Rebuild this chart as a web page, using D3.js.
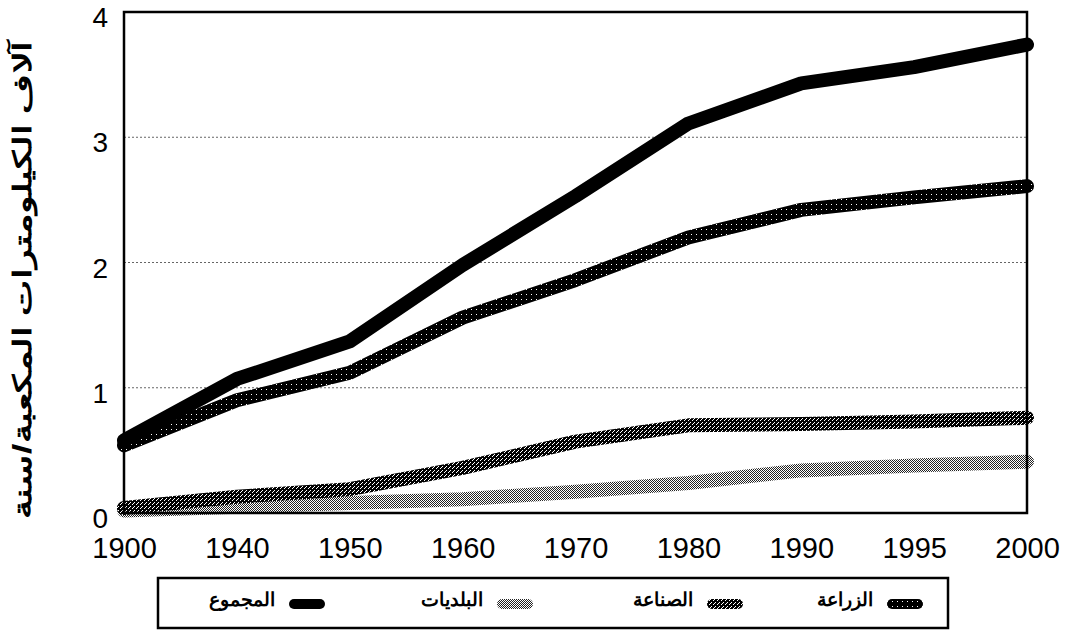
<!DOCTYPE html>
<html>
<head>
<meta charset="utf-8">
<script src="https://cdn.jsdelivr.net/npm/d3@7"></script>
<style>
  html, body { margin: 0; padding: 0; background: #fff; }
  #chart { width: 1072px; height: 631px; }
  text { font-family: "Liberation Sans", Arial, sans-serif; fill: #000; }
</style>
</head>
<body>
<div id="chart"></div>
<script>
/* Water withdrawal by sector, 1900-2000 — textured lines, legend box below. */

var years = ["1900", "1940", "1950", "1960", "1970", "1980", "1990", "1995", "2000"];
var yTicks = [0, 1, 2, 3, 4];
var yTitle = "آلاف الكيلومترات المكعبة/سنة";

var seriesNames = ["الزراعة", "الصناعة", "البلديات", "المجموع"];
var agriculture = [0.54, 0.90, 1.12, 1.56, 1.86, 2.20, 2.42, 2.52, 2.61];
var industry = [0.04, 0.13, 0.19, 0.36, 0.57, 0.70, 0.71, 0.73, 0.76];
var municipal = [0.02, 0.05, 0.08, 0.11, 0.17, 0.24, 0.34, 0.38, 0.41];
var total = [0.58, 1.07, 1.37, 1.98, 2.53, 3.11, 3.43, 3.56, 3.74];

(function () {
  var d3 = window.d3;
  var el = document.getElementById("chart");
  var width = 1072, height = 631;
  var margin = { top: 12, right: 45, bottom: 118, left: 124 };
  var innerW = width - margin.left - margin.right;
  var innerH = height - margin.top - margin.bottom;

  var svg = d3.select(el).append("svg")
    .attr("width", width).attr("height", height)
    .attr("viewBox", "0 0 " + width + " " + height);

  /* stipple patterns for the line textures */
  var defs = svg.append("defs");
  function pattern(id, size, bg, dots) {
    var p = defs.append("pattern").attr("id", id)
      .attr("patternUnits", "userSpaceOnUse")
      .attr("width", size).attr("height", size);
    p.append("rect").attr("width", size).attr("height", size).attr("fill", bg);
    dots.forEach(function (d) {
      p.append("rect").attr("x", d[0]).attr("y", d[1]).attr("width", 1).attr("height", 1).attr("fill", d[2]);
    });
  }
  pattern("pat-agri", 5, "#000", [[2, 2, "#fff"]]);
  pattern("pat-ind", 4, "#000", [[0, 0, "#fff"], [2, 2, "#fff"], [1, 3, "#fff"]]);
  pattern("pat-mun", 2, "#fff", [[0, 0, "#222"], [1, 1, "#222"]]);

  var series = [
    { name: seriesNames[0], values: agriculture, stroke: "url(#pat-agri)" },
    { name: seriesNames[1], values: industry, stroke: "url(#pat-ind)" },
    { name: seriesNames[2], values: municipal, stroke: "url(#pat-mun)" },
    { name: seriesNames[3], values: total, stroke: "#000" }
  ];

  var g = svg.append("g").attr("transform", "translate(" + margin.left + "," + margin.top + ")");

  var x = d3.scalePoint().domain(years).range([0, innerW]).padding(0);
  var y = d3.scaleLinear().domain([0, 4]).range([innerH, 0]);

  /* dotted gridlines */
  g.append("g").selectAll("line").data(yTicks.filter(function (v) { return v > 0 && v < 4; }))
    .enter().append("line")
    .attr("x1", 0).attr("x2", innerW)
    .attr("y1", function (v) { return y(v); }).attr("y2", function (v) { return y(v); })
    .attr("stroke", "#666").attr("stroke-width", 1).attr("stroke-dasharray", "2 2");

  /* lines: draw bottom series first so the total sits on top */
  var line = d3.line()
    .x(function (d, i) { return x(years[i]); })
    .y(function (d) { return y(d); });

  [series[2], series[1], series[0], series[3]].forEach(function (s) {
    g.append("path").datum(s.values)
      .attr("fill", "none").attr("stroke", s.stroke)
      .attr("stroke-width", 14)
      .attr("stroke-linecap", "round").attr("stroke-linejoin", "round")
      .attr("d", line);
  });

  /* plot frame */
  g.append("rect").attr("width", innerW).attr("height", innerH)
    .attr("fill", "none").attr("stroke", "#000").attr("stroke-width", 2.5);

  /* axes */
  var xAxis = g.append("g").attr("transform", "translate(0," + innerH + ")")
    .call(d3.axisBottom(x).tickSize(0).tickPadding(24));
  xAxis.select(".domain").remove();
  xAxis.selectAll("text").attr("font-size", 29).attr("font-family", "Liberation Sans, Arial, sans-serif").attr("fill", "#000");

  var yAxis = g.append("g")
    .call(d3.axisLeft(y).tickValues(yTicks).tickSize(0).tickPadding(16).tickFormat(d3.format("d")));
  yAxis.select(".domain").remove();
  yAxis.selectAll("text").attr("font-size", 28).attr("dy", "0.52em")
    .attr("font-family", "Liberation Sans, Arial, sans-serif").attr("fill", "#000");

  /* y title */
  svg.append("text")
    .attr("transform", "translate(31,280) rotate(-90)")
    .attr("text-anchor", "middle")
    .attr("font-size", 25).attr("font-weight", "bold")
    .attr("font-family", "DejaVu Sans, sans-serif")
    .attr("direction", "rtl")
    .attr("textLength", 478).attr("lengthAdjust", "spacingAndGlyphs")
    .text(yTitle);

  /* legend box */
  var lg = svg.append("g").attr("transform", "translate(158,578)");
  lg.append("rect").attr("width", 790).attr("height", 50)
    .attr("fill", "#fff").attr("stroke", "#000").attr("stroke-width", 2.5);

  var legendX = [747, 567, 357, 149];
  series.forEach(function (s, i) {
    var item = lg.append("g").attr("transform", "translate(" + legendX[i] + ",26)");
    item.append("line").attr("x1", -13).attr("x2", 13)
      .attr("stroke", s.stroke).attr("stroke-width", 10).attr("stroke-linecap", "round");
    item.append("text").attr("x", -32).attr("y", 0).attr("dy", "0.1em")
      .attr("text-anchor", "end")
      .attr("font-size", 19).attr("font-weight", "bold")
      .attr("font-family", "DejaVu Sans, sans-serif")
      .text(s.name);
  });
})();
</script>
</body>
</html>
